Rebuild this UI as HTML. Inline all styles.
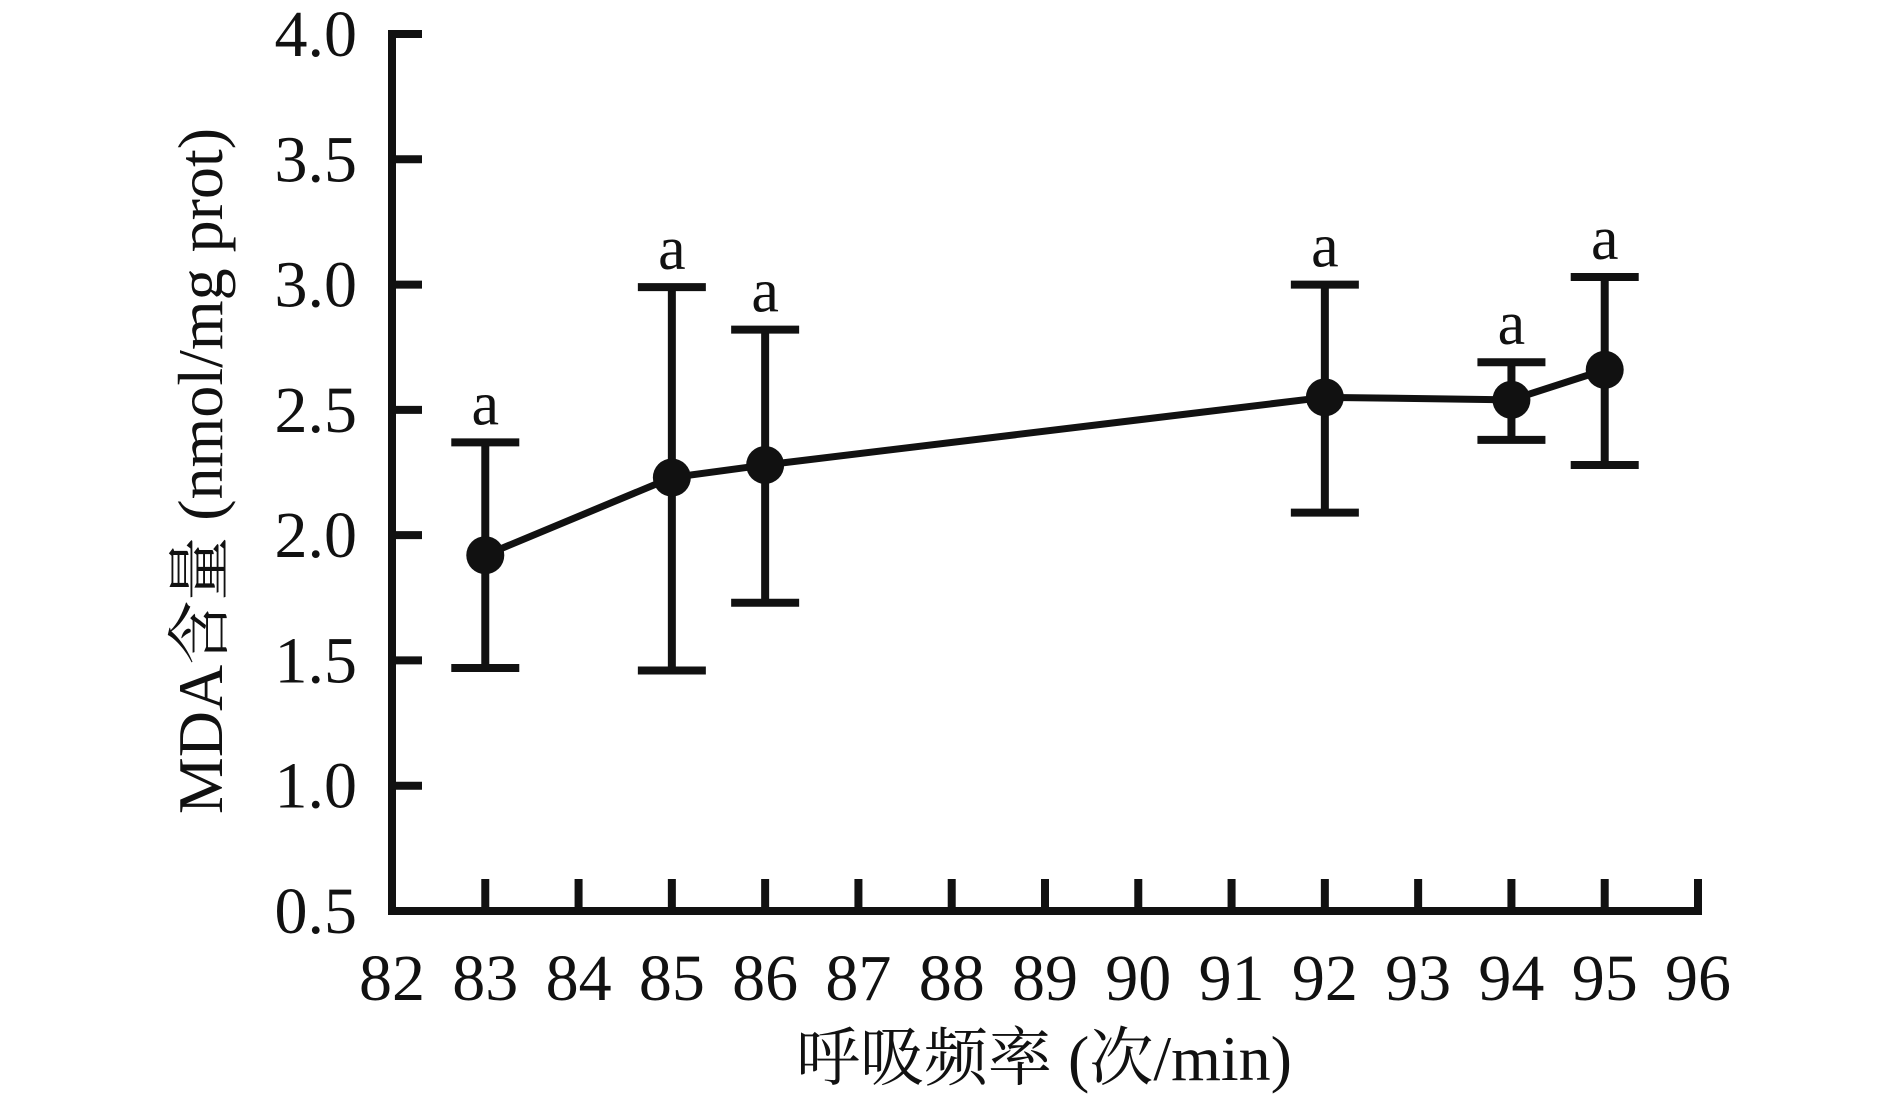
<!DOCTYPE html>
<html><head><meta charset="utf-8"><style>
html,body{margin:0;padding:0;background:#fff;}
svg{display:block;}
text{font-family:"Liberation Serif","Noto Serif CJK SC",serif;fill:#111;}
</style></head><body>
<svg id="chart" width="1890" height="1101"></svg>
<script>
const categories=[83,85,86,92,94,95];
const means=[1.92,2.23,2.28,2.55,2.54,2.66];
const upper=[2.37,2.99,2.82,3.00,2.69,3.03];
const lower=[1.47,1.46,1.73,2.09,2.38,2.28];
const sigLabels=['a','a','a','a','a','a'];
const xTicks=[82,83,84,85,86,87,88,89,90,91,92,93,94,95,96];
const yTicks=[0.5,1.0,1.5,2.0,2.5,3.0,3.5,4.0];

const X0=392,X1=1698,Y0=911,Y1=34;
const xs=v=>X0+(v-82)/(96-82)*(X1-X0);
const ys=v=>Y0-(v-0.5)/(4.0-0.5)*(Y0-Y1);
const svg=document.getElementById('chart');
const NS='http://www.w3.org/2000/svg';
function mk(tag,attrs,parent){const e=document.createElementNS(NS,tag);for(const k in attrs)e.setAttribute(k,attrs[k]);(parent||svg).appendChild(e);return e;}
const K='#111';
let e=mk('line',{x1:X0,y1:Y1-4,x2:X0,y2:Y0+4,stroke:K,'stroke-width':8});


e=mk('line',{x1:X0-4,y1:Y0,x2:X1+4,y2:Y0,stroke:K,'stroke-width':8});


yTicks.forEach(v=>{
 const t=mk('line',{x1:X0,y1:ys(v),x2:X0+30,y2:ys(v),stroke:K,'stroke-width':8});
 
 
 const l=mk('text',{x:357,y:ys(v)+22,'text-anchor':'end','font-size':66});
 l.textContent=v.toFixed(1);
 
 
});
xTicks.forEach(v=>{
 if(v!==82){
 const t=mk('line',{x1:xs(v),y1:Y0,x2:xs(v),y2:Y0-32,stroke:K,'stroke-width':8});
 
 }
 const l=mk('text',{x:xs(v),y:1000,'text-anchor':'middle','font-size':66});
 l.textContent=v;
 
 
});
const pts=categories.map((c,i)=>xs(c)+','+ys(means[i])).join(' ');
e=mk('polyline',{points:pts,fill:'none',stroke:K,'stroke-width':7});


categories.forEach((c,i)=>{
 const x=xs(c);
 const g=mk('g',{});
 
 
 mk('line',{x1:x,y1:ys(upper[i]),x2:x,y2:ys(lower[i]),stroke:K,'stroke-width':8},g);
 mk('line',{x1:x-34,y1:ys(upper[i]),x2:x+34,y2:ys(upper[i]),stroke:K,'stroke-width':8},g);
 mk('line',{x1:x-34,y1:ys(lower[i]),x2:x+34,y2:ys(lower[i]),stroke:K,'stroke-width':8},g);
 const p=mk('circle',{cx:x,cy:ys(means[i]),r:19,fill:K});
 
 
 const a=mk('text',{x:x,y:ys(upper[i])-18,'text-anchor':'middle','font-size':62});
 a.textContent=sigLabels[i];
 
 
});
e=mk('text',{x:1044,y:1080,'text-anchor':'middle','font-size':64});
e.textContent='呼吸频率 (次/min)';


e=mk('text',{x:0,y:0,'text-anchor':'middle','font-size':64,transform:'translate(222,471) rotate(-90)'});
e.textContent='MDA含量 (nmol/mg prot)';


</script>
</body></html>
